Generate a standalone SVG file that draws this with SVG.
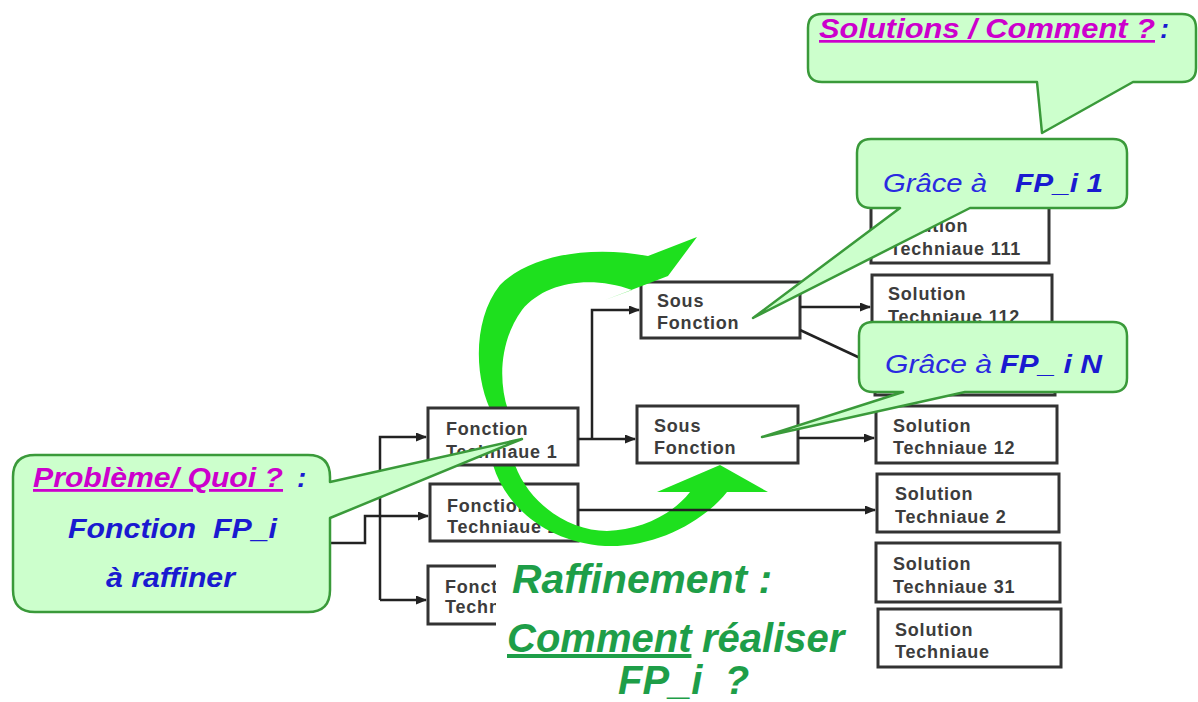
<svg xmlns="http://www.w3.org/2000/svg" width="1198" height="702" viewBox="0 0 1198 702">
<defs>
<marker id="arr" markerWidth="11" markerHeight="9" refX="10" refY="4.5" orient="auto" markerUnits="userSpaceOnUse"><path d="M0,0 L11,4.5 L0,9 Z" fill="#222"/></marker>
</defs>
<style>
.box{fill:#fff;stroke:#333;stroke-width:3}
.bt{font-family:"Liberation Sans",Arial,sans-serif;font-weight:bold;font-size:18px;fill:#3c3c3c;letter-spacing:0.8px}
.conn{fill:none;stroke:#222;stroke-width:2.5}
.call{fill:#ccffcc;stroke:#3a9a3a;stroke-width:2.5;stroke-linejoin:round}
.garrow{fill:#1ee01e}
.mag{font-family:"Liberation Sans",Arial,sans-serif;font-weight:bold;font-style:italic;fill:#cc00cc;text-decoration:underline;white-space:pre}
.blueb{font-family:"Liberation Sans",Arial,sans-serif;font-weight:bold;font-style:italic;fill:#1a1ad0;white-space:pre}
.bluei{font-family:"Liberation Sans",Arial,sans-serif;font-style:italic;fill:#2a2ae0;white-space:pre}
.green{font-family:"Liberation Sans",Arial,sans-serif;font-weight:bold;font-style:italic;fill:#1e9e48;font-size:40px;white-space:pre}
</style>

<g id="solution-boxes">
<g id="st111"><rect class="box" x="871" y="205" width="178" height="58"/><text class="bt" x="890" y="232">Solution</text><text class="bt" x="890" y="255">Techniaue 111</text></g>
<g id="st112"><rect class="box" x="872" y="275" width="180" height="56"/><text class="bt" x="888" y="300">Solution</text><text class="bt" x="888" y="323">Techniaue 112</text></g>
<g id="st11n"><rect class="box" x="875" y="340" width="180" height="55"/></g>
<g id="st12"><rect class="box" x="876" y="406" width="181" height="57"/><text class="bt" x="893" y="432">Solution</text><text class="bt" x="893" y="454">Techniaue 12</text></g>
<g id="st2"><rect class="box" x="877" y="474" width="182" height="58"/><text class="bt" x="895" y="500">Solution</text><text class="bt" x="895" y="523">Techniaue 2</text></g>
<g id="st31"><rect class="box" x="876" y="543" width="184" height="59"/><text class="bt" x="893" y="570">Solution</text><text class="bt" x="893" y="593">Techniaue 31</text></g>
<g id="st3n"><rect class="box" x="878" y="609" width="183" height="58"/><text class="bt" x="895" y="636">Solution</text><text class="bt" x="895" y="658">Techniaue</text></g>
</g>

<g id="sous-fonctions">
<g id="sf1"><rect class="box" x="641" y="282" width="159" height="56"/><text class="bt" x="657" y="307">Sous</text><text class="bt" x="657" y="329">Fonction</text></g>
<g id="sf2"><rect class="box" x="637" y="406" width="161" height="57"/><text class="bt" x="654" y="432">Sous</text><text class="bt" x="654" y="454">Fonction</text></g>
</g>

<g id="ft2"><rect class="box" x="430" y="484" width="148" height="57"/><text class="bt" x="447" y="512">Fonction</text><text class="bt" x="447" y="533">Techniaue 2</text></g>
<g id="ft3"><rect class="box" x="428" y="566" width="150" height="58"/><text class="bt" x="445" y="593">Fonct</text><text class="bt" x="445" y="613">Techn</text></g>

<g id="refinement-arrows">
<path class="garrow" d="M 493,415 C 474,380 472,320 500,285 C 530,255 590,245 648,256 L 697,237 L 668,276 L 605,300 L 632,290 C 590,275 545,282 522,310 C 500,340 498,380 508,410 Z"/>
<path class="garrow" d="M 493,465 C 505,505 545,542 605,546 C 655,548 703,522 727,492 L 768,492 L 720,465 L 657,492 L 690,492 C 672,515 640,530 607,531 C 570,531 530,505 515,465 Z"/>
</g>

<g id="ft1"><rect class="box" x="428" y="408" width="150" height="57"/><text class="bt" x="446" y="435">Fonction</text><text class="bt" x="446" y="458">Techniaue 1</text></g>

<g id="connectors">
<path class="conn" d="M 330,543 H 365 V 516 H 428" marker-end="url(#arr)"/>
<path class="conn" d="M 380,600 V 437 H 426" marker-end="url(#arr)"/>
<path class="conn" d="M 380,600 H 426" marker-end="url(#arr)"/>
<path class="conn" d="M 578,439 H 635" marker-end="url(#arr)"/>
<path class="conn" d="M 592,439 V 310 H 639" marker-end="url(#arr)"/>
<path class="conn" d="M 800,307 H 870" marker-end="url(#arr)"/>
<path class="conn" d="M 800,330 L 873,364" marker-end="url(#arr)"/>
<path class="conn" d="M 798,438 H 874" marker-end="url(#arr)"/>
<path class="conn" d="M 578,510 H 875" marker-end="url(#arr)"/>
</g>

<g id="callout-solutions">
<path class="call" d="M 822,14 H 1182 Q 1196,14 1196,28 V 68 Q 1196,82 1182,82 H 1133 L 1042,133 L 1037,82 H 822 Q 808,82 808,68 V 28 Q 808,14 822,14 Z"/>
<text class="mag" x="819" y="38" font-size="27" textLength="336" lengthAdjust="spacingAndGlyphs">Solutions / Comment ?</text>
<text class="blueb" x="1160" y="38" font-size="27">:</text>
</g>

<g id="callout-fp1">
<path class="call" d="M 871,139 H 1113 Q 1127,139 1127,153 V 194 Q 1127,208 1113,208 H 970 L 753,318 L 900,208 H 871 Q 857,208 857,194 V 153 Q 857,139 871,139 Z"/>
<text class="bluei" x="883" y="192" font-size="26" textLength="104" lengthAdjust="spacingAndGlyphs">Grâce à</text>
<text class="blueb" x="1015" y="192" font-size="26" textLength="88" lengthAdjust="spacingAndGlyphs">FP_i 1</text>
</g>

<g id="callout-fpn">
<path class="call" d="M 873,322 H 1113 Q 1127,322 1127,336 V 378 Q 1127,392 1113,392 H 965 L 762,437 L 903,392 H 873 Q 859,392 859,378 V 336 Q 859,322 873,322 Z"/>
<text class="bluei" x="885" y="373" font-size="26" textLength="107" lengthAdjust="spacingAndGlyphs">Grâce à</text>
<text class="blueb" x="1000" y="373" font-size="26" textLength="102" lengthAdjust="spacingAndGlyphs">FP_ i N</text>
</g>

<g id="callout-probleme">
<path class="call" d="M 35,455 H 308 Q 330,455 330,477 V 482 L 522,439 L 330,518 V 590 Q 330,612 308,612 H 35 Q 13,612 13,590 V 477 Q 13,455 35,455 Z"/>
<text class="mag" x="33" y="487" font-size="28" textLength="250" lengthAdjust="spacingAndGlyphs">Problème/ Quoi ?</text>
<text class="blueb" x="297" y="487" font-size="28">:</text>
<text class="blueb" x="68" y="538" font-size="27" textLength="209" lengthAdjust="spacingAndGlyphs">Fonction  FP_i</text>
<text class="blueb" x="106" y="587" font-size="27" textLength="129" lengthAdjust="spacingAndGlyphs">à raffiner</text>
</g>

<g id="raffinement-label">
<rect x="496" y="556" width="100" height="80" fill="#fff"/>
<text class="green" x="512" y="593" textLength="260" lengthAdjust="spacingAndGlyphs">Raffinement :</text>
<text class="green" x="507" y="652" text-decoration="underline">Comment</text>
<text class="green" x="702" y="652">réaliser</text>
<text class="green" x="618" y="694" font-size="38">FP_i  ?</text>
</g>
</svg>
